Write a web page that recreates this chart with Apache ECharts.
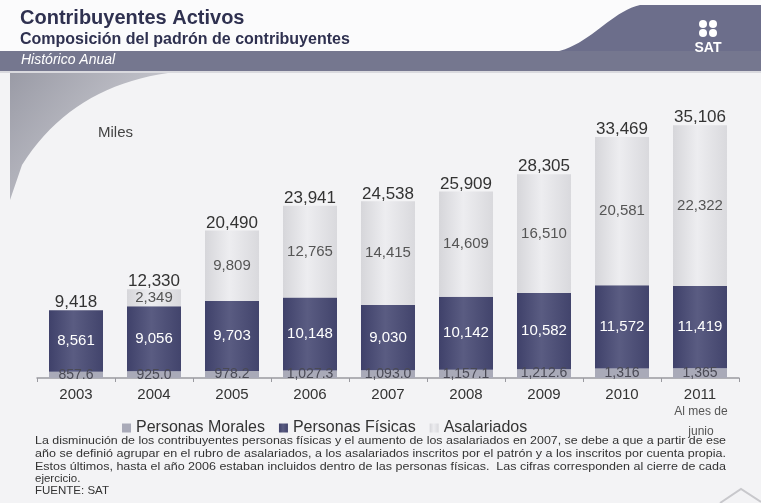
<!DOCTYPE html>
<html>
<head>
<meta charset="utf-8">
<script src="https://cdn.jsdelivr.net/npm/echarts@6/dist/echarts.min.js"></script>
<style>
html,body{margin:0;padding:0;background:#f3f3f5;}
#c{width:761px;height:503px;}
</style>
</head>
<body>
<div id="c"></div>
<script>
var years = ['2003','2004','2005','2006','2007','2008','2009','2010','2011'];
var personasMorales = [857.6, 925.0, 978.2, 1027.3, 1093.0, 1157.1, 1212.6, 1316, 1365];
var personasFisicas = [8561, 9056, 9703, 10148, 9030, 10142, 10582, 11572, 11419];
var asalariados = [0, 2349, 9809, 12765, 14415, 14609, 16510, 20581, 22322];
var totales = [9418, 12330, 20490, 23941, 24538, 25909, 28305, 33469, 35106];
var noteLines = [
  'La disminución de los contribuyentes personas físicas y el aumento de los asalariados en 2007, se debe a que a partir de ese',
  'año se definió agrupar en el rubro de asalariados, a los asalariados inscritos por el patrón y a los inscritos por cuenta propia.',
  'Estos últimos, hasta el año 2006 estaban incluidos dentro de las personas físicas.  Las cifras corresponden al cierre de cada',
  'ejercicio.',
  'FUENTE: SAT'
];

function fmt(v, d) {
  return Number(v).toLocaleString('en-US', {minimumFractionDigits: d, maximumFractionDigits: d});
}
function bez(p0, p1, p2, p3, n) {
  var pts = [];
  for (var i = 0; i <= n; i++) {
    var t = i / n, u = 1 - t;
    pts.push([u*u*u*p0[0] + 3*u*u*t*p1[0] + 3*u*t*t*p2[0] + t*t*t*p3[0],
              u*u*u*p0[1] + 3*u*u*t*p1[1] + 3*u*t*t*p2[1] + t*t*t*p3[1]]);
  }
  return pts;
}

var chart = echarts.init(document.getElementById('c'), null, {renderer: 'canvas'});
var FONT = '"Liberation Sans", Arial, sans-serif';
var NOTE_FONT = '11.5px ' + FONT;
var measureCtx = document.createElement('canvas').getContext('2d');
measureCtx.font = NOTE_FONT;

function hGrad(a, b, c) {
  return {type: 'linear', x: 0, y: 0, x2: 1, y2: 0, colorStops: [
    {offset: 0, color: a}, {offset: 0.45, color: b}, {offset: 1, color: c}]};
}

var bannerPts = [[761, 5], [761, 52]].concat(bez([555, 52], [590, 45], [610, 12], [640, 5], 20));
var swooshPts = [[10, 73]].concat(bez([168, 73], [105, 82], [55, 112], [22, 165], 20)).concat([[10, 200]]);

var graphics = [
  {type: 'rect', shape: {x: 0, y: 0, width: 761, height: 73}, style: {fill: '#fbfbfc'}, z: -10},
  {type: 'polygon', shape: {points: bannerPts}, style: {fill: '#6c6e8b'}, z: -5},
  {type: 'rect', shape: {x: 0, y: 51, width: 761, height: 20}, style: {fill: '#75778f'}, z: -5},
  {type: 'rect', shape: {x: 0, y: 71, width: 761, height: 2}, style: {fill: '#d9d9de'}, z: -5},
  {type: 'polygon', shape: {points: swooshPts},
    style: {fill: {type: 'linear', x: 0, y: 0, x2: 1, y2: 1, colorStops: [
      {offset: 0, color: '#9a9ba6'}, {offset: 1, color: '#dcdce1'}]}}, z: -5},
  {type: 'text', left: 20, top: 8, style: {text: 'Contribuyentes Activos', font: 'bold 20px ' + FONT, fill: '#2f3150'}},
  {type: 'text', left: 20, top: 32, style: {text: 'Composición del padrón de contribuyentes', font: 'bold 16px ' + FONT, fill: '#2f3150'}},
  {type: 'text', left: 21, top: 53, style: {text: 'Histórico Anual', font: 'italic 14px ' + FONT, fill: '#ffffff'}},
  {type: 'circle', shape: {cx: 703, cy: 24, r: 4}, style: {fill: '#ffffff'}},
  {type: 'circle', shape: {cx: 713, cy: 24, r: 4}, style: {fill: '#ffffff'}},
  {type: 'circle', shape: {cx: 703, cy: 33, r: 4}, style: {fill: '#ffffff'}},
  {type: 'circle', shape: {cx: 713, cy: 33, r: 4}, style: {fill: '#ffffff'}},
  {type: 'text', x: 708, y: 48, style: {text: 'SAT', font: 'bold 14px ' + FONT, fill: '#ffffff', align: 'center', verticalAlign: 'middle'}},
  {type: 'text', left: 98, top: 125, style: {text: 'Miles', font: '15px ' + FONT, fill: '#444'}},
  {type: 'text', x: 701, y: 412, style: {text: 'Al mes de', font: '12px ' + FONT, fill: '#555', align: 'center', verticalAlign: 'middle'}},
  {type: 'text', x: 701, y: 432, style: {text: 'junio', font: '12px ' + FONT, fill: '#555', align: 'center', verticalAlign: 'middle'}, z: 1},
  {type: 'polyline', shape: {points: [[720, 503], [741, 489], [761, 502]]}, style: {stroke: '#c8c8cc', lineWidth: 2, fill: null}}
];
var noteY = [441, 454, 467, 479, 491];
noteLines.forEach(function (t, i) {
  var sx = 1;
  if (i < 3) { sx = 691 / measureCtx.measureText(t).width; }
  graphics.push({type: 'text', x: 35, y: noteY[i], z: 5, scaleX: sx,
    style: {text: t, font: NOTE_FONT, fill: '#333', verticalAlign: 'middle'}});
});

var option = {
  backgroundColor: '#f3f3f5',
  animation: false,
  grid: {left: 37, right: 22, top: 90, bottom: 125},
  legend: {
    data: ['Personas Morales', 'Personas Físicas', 'Asalariados'],
    top: 415, left: 117, itemWidth: 9, itemHeight: 9, itemGap: 14, icon: 'rect',
    textStyle: {fontSize: 16, color: '#333', fontFamily: FONT}
  },
  xAxis: {
    type: 'category', data: years,
    axisLine: {lineStyle: {color: '#9a9aa0', width: 1.5}},
    axisTick: {show: true, length: 4, lineStyle: {color: '#9a9aa0'}},
    axisLabel: {fontSize: 15, color: '#333', margin: 9, fontFamily: FONT}
  },
  yAxis: {type: 'value', min: 0, max: 40000, show: false, splitLine: {show: false}},
  graphic: graphics,
  series: [
    {
      name: 'Personas Morales', type: 'bar', stack: 'a', barWidth: 54,
      data: personasMorales,
      itemStyle: {color: '#a9aab8'},
      label: {show: true, position: 'inside', color: '#4a4a55', fontSize: 14, fontFamily: FONT,
        formatter: function (p) { return fmt(p.value, p.dataIndex < 7 ? 1 : 0); }}
    },
    {
      name: 'Personas Físicas', type: 'bar', stack: 'a', barWidth: 54,
      data: personasFisicas,
      itemStyle: {color: hGrad('#3f416a', '#5a5c82', '#42446c')},
      label: {show: true, position: 'inside', color: '#ffffff', fontSize: 15, fontFamily: FONT,
        formatter: function (p) { return fmt(p.value, 0); }}
    },
    {
      name: 'Asalariados', type: 'bar', stack: 'a', barWidth: 54,
      data: asalariados,
      itemStyle: {color: hGrad('#d6d6da', '#ededf0', '#d9d9dd')},
      label: {show: true, position: 'inside', color: '#555', fontSize: 15, fontFamily: FONT,
        formatter: function (p) { return p.value ? fmt(p.value, 0) : ''; }}
    },
    {
      name: 'Total', type: 'line', data: totales,
      symbol: 'circle', symbolSize: 2, showSymbol: true,
      itemStyle: {color: 'rgba(0,0,0,0)'}, lineStyle: {width: 0, color: 'rgba(0,0,0,0)'},
      label: {show: true, position: 'top', distance: 1, offset: [0, 3], color: '#333', fontSize: 17, fontFamily: FONT,
        formatter: function (p) { return fmt(p.value, 0); }},
      z: 10
    }
  ]
};
chart.setOption(option);
</script>
</body>
</html>
